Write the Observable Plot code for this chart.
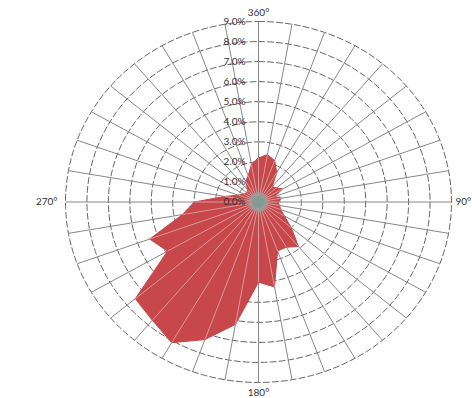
<!DOCTYPE html>
<html>
<head>
<meta charset="utf-8">
<script src="https://cdn.jsdelivr.net/npm/d3@7"></script>
<script src="https://cdn.jsdelivr.net/npm/@observablehq/plot@0.6"></script>
<style>
  html, body { margin: 0; padding: 0; background: #fff; }
  #chart svg { display: block; }
</style>
</head>
<body>
<div id="chart"></div>
<script>
// Wind directions (degrees, clockwise from north) and frequency (%)
const directions = [0,10,20,30,40,50,60,70,80,90,100,110,120,130,140,150,160,170,
                    180,190,200,210,220,230,240,250,260,270,280,290,300,310,320,330,340,350];
const frequency  = [2.2,2.4,2.2,1.7,1.0,1.1,1.3,0.8,1.1,0.9,1.0,1.1,1.4,2.0,2.9,2.6,2.6,4.3,
                    4.0,6.2,7.3,8.1,7.7,7.5,4.9,5.4,3.6,3.0,1.6,1.0,0.8,0.7,0.8,1.2,1.4,1.9];
const ringValues = [1,2,3,4,5,6,7,8,9];
const ringLabels = ["0.0%","1.0%","2.0%","3.0%","4.0%","5.0%","6.0%","7.0%","8.0%","9.0%"];
const compassLabels = ["360°","90°","180°","270°"];
const rMax = 9;

const rad = d => d * Math.PI / 180;
const polar = (deg, r) => ({x: r * Math.sin(rad(deg)), y: r * Math.cos(rad(deg))});

const rose = directions.map((d, i) => ({dir: d, ...polar(d, frequency[i])}));
const spokes = directions.map(d => ({dir: d, ...polar(d, rMax)}));
const rings = ringValues.flatMap(r => d3.range(0, 361, 2).map(a => ({ring: r, ...polar(a, r)})));
const tickText = ringLabels.map((t, i) => ({t, x: 0, y: i}));

const chart = Plot.plot({
  width: 472,
  height: 398,
  margin: 0,
  x: {domain: [-rMax, rMax], range: [65, 451], axis: null},
  y: {domain: [-rMax, rMax], range: [382, 21], axis: null},
  style: {fontFamily: "Lato, 'DejaVu Sans', sans-serif", background: "#fff"},
  marks: [
    Plot.line(rings, {x: "x", y: "y", z: "ring", stroke: "#555", strokeWidth: 0.9, strokeDasharray: "6,3"}),
    Plot.link(spokes, {x1: 0, y1: 0, x2: "x", y2: "y", stroke: "#888", strokeWidth: 1}),
    Plot.line(rose, {x: "x", y: "y", curve: "linear-closed", fill: "#c8474a", stroke: "#c8474a", strokeWidth: 1}),
    Plot.link(rose, {x1: 0, y1: 0, x2: "x", y2: "y", stroke: "#d99a9a", strokeWidth: 1}),
    Plot.dot([{x: 0, y: 0}], {x: "x", y: "y", r: 10, fill: "#8fa09d", fillOpacity: 0.75}),
    Plot.dot([{x: 0, y: 0}], {x: "x", y: "y", r: 6, fill: "#869a97"}),
    Plot.text(tickText, {x: "x", y: "y", text: "t", textAnchor: "end", dx: -13, fontSize: 10, fill: "#333"}),
    Plot.text([0], {x: 0, y: rMax, text: [compassLabels[0]], dy: -9, fontSize: 10, fill: "#333"}),
    Plot.text([0], {x: 0, y: -rMax, text: [compassLabels[2]], dy: 10, fontSize: 10, fill: "#333"}),
    Plot.text([0], {x: -rMax, y: 0, text: [compassLabels[3]], textAnchor: "end", dx: -8, fontSize: 10, fill: "#333"}),
    Plot.text([0], {x: rMax, y: 0, text: [compassLabels[1]], textAnchor: "start", dx: 4, fontSize: 10, fill: "#333"})
  ]
});
document.getElementById("chart").appendChild(chart);
</script>
</body>
</html>
